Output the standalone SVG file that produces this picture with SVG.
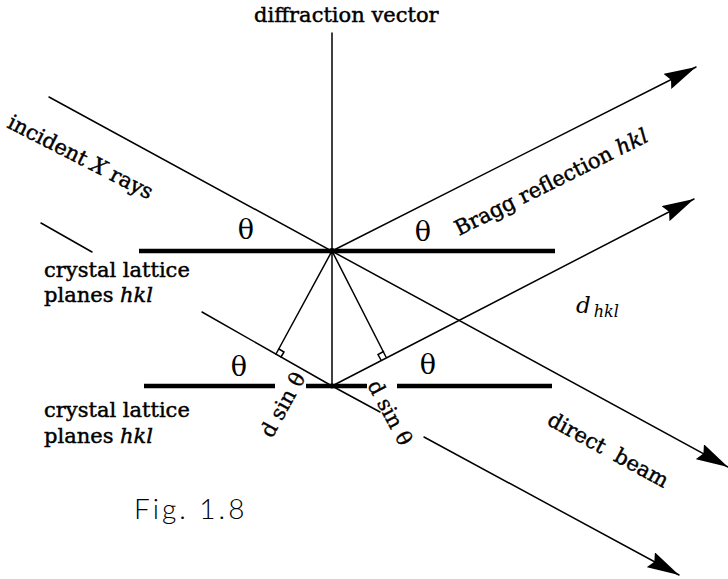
<svg xmlns="http://www.w3.org/2000/svg" width="728" height="579" viewBox="0 0 728 579">
<style>
.thin{stroke:#000;stroke-width:1.5;fill:none;stroke-linecap:round}
.thick{stroke:#000;stroke-width:4.5;fill:none;stroke-linecap:butt}
.t{font-family:"DejaVu Serif","Liberation Serif",serif;font-size:21px;fill:#000;stroke:#000;stroke-width:0.45}
.it{font-style:italic}
.th{font-family:"DejaVu Serif","Liberation Serif",serif;font-size:27px;fill:#000;text-anchor:middle}
.ds{font-family:"DejaVu Serif","Liberation Serif",serif;font-size:21px;fill:#000;stroke:#000;stroke-width:0.35}
.fig{font-family:Lato,"Open Sans",sans-serif;font-weight:300;font-size:28px;fill:#000}
</style>
<defs>
<marker id="ah" viewBox="0 0 32 17" refX="32" refY="8.5" markerWidth="32" markerHeight="17" markerUnits="userSpaceOnUse" orient="auto">
<path d="M0,0 L32,8.5 L0,17 L4,8.5 Z" fill="#000"/>
</marker>
</defs>
<rect width="728" height="579" fill="#fff"/>
<g id="planes">
<line class="thick" x1="139" y1="251" x2="555" y2="251"/>
<line class="thick" x1="144" y1="386" x2="275" y2="386"/>
<line class="thick" x1="306" y1="386" x2="367" y2="386"/>
<line class="thick" x1="397" y1="386" x2="552" y2="386"/>
</g>
<g id="connectors">
<line class="thin" x1="332" y1="33" x2="332" y2="386"/>
<line class="thin" x1="49" y1="97" x2="728" y2="467" marker-end="url(#ah)"/>
<line class="thin" x1="332" y1="251" x2="696" y2="67" marker-end="url(#ah)"/>
<line class="thin" x1="41" y1="223" x2="92" y2="252"/>
<line class="thin" x1="202" y1="312" x2="332" y2="386"/>
<line class="thin" x1="332" y1="386" x2="380" y2="412"/>
<line class="thin" x1="424" y1="437" x2="679" y2="575" marker-end="url(#ah)"/>
<line class="thin" x1="332" y1="386" x2="694" y2="199" marker-end="url(#ah)"/>
<line class="thin" x1="332" y1="251" x2="276" y2="354"/>
<line class="thin" x1="332" y1="251" x2="386" y2="357"/>
<polyline class="thin" points="281,357 284,352 279,349"/>
<polyline class="thin" points="381,360 378,354.5 383.5,351.5"/>
<circle cx="332" cy="251" r="3" fill="#000"/>
<circle cx="332" cy="386" r="2.5" fill="#000"/>
</g>
<g id="labels">
<text class="t" x="254" y="22">diffraction vector</text>
<text class="t" transform="translate(6,127) rotate(27)">incident <tspan class="it">X</tspan> rays</text>
<text class="t" transform="translate(459,236) rotate(-26.5)">Bragg reflection <tspan class="it">hkl</tspan></text>
<text class="t" transform="translate(546,424) rotate(28.6)">direct<tspan dx="13">beam</tspan></text>
<text class="t" x="44" y="277">crystal lattice</text>
<text class="t" x="44" y="302">planes <tspan class="it">hkl</tspan></text>
<text class="t" x="44" y="417">crystal lattice</text>
<text class="t" x="44" y="443">planes <tspan class="it">hkl</tspan></text>
<text class="it" x="576" y="313" font-family="DejaVu Serif, Liberation Serif, serif" font-size="23" fill="#000">d<tspan font-size="16" dx="3" dy="4">hkl</tspan></text>
<text class="th" x="246" y="239">θ</text>
<text class="th" x="423" y="241">θ</text>
<text class="th" x="239" y="376">θ</text>
<text class="th" x="428" y="374">θ</text>
<text class="ds" transform="translate(272,439) rotate(-61)">d sin θ</text>
<text class="ds" transform="translate(367,385) rotate(62)">d sin θ</text>
<text class="fig" x="134" y="519" letter-spacing="3">Fig. 1.8</text>
</g>
</svg>
